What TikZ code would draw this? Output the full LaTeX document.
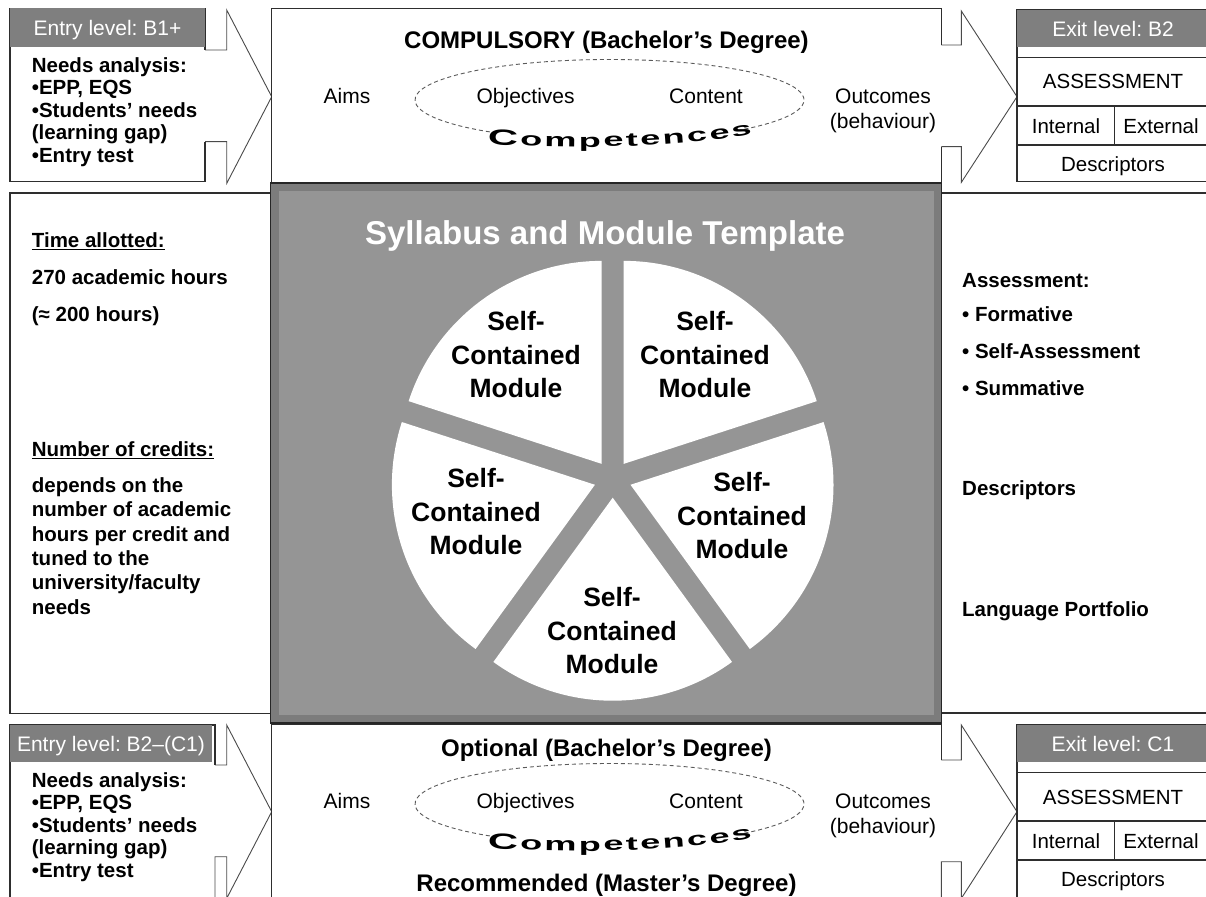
\documentclass[tikz,border=0pt]{standalone}
\usepackage{fontspec}
\setmainfont{Liberation Sans}
\usetikzlibrary{calc}
\frenchspacing
\definecolor{hdr}{HTML}{7F7F7F}
\definecolor{pnlo}{HTML}{7C7C7C}
\definecolor{pnli}{HTML}{959595}
\definecolor{edgec}{HTML}{2E2E2E}
\definecolor{arrc}{HTML}{4A4A4A}
\definecolor{dashgray}{HTML}{5A5A5A}
\tikzset{
  boxline/.style={draw=edgec, line width=1.2pt},
  arrline/.style={draw=arrc, line width=0.9pt},
  hdrfill/.style={fill=hdr, inner sep=0pt, anchor=north west},
  hdrtxt/.style={text=white, font=\fontsize{21}{25}\selectfont, inner sep=0pt, anchor=base},
  celltxt/.style={font=\fontsize{20.5}{24}\selectfont, inner sep=0pt, anchor=base},
  lt/.style={font=\bfseries\fontsize{20.5}{24}\selectfont, inner sep=0pt, anchor=base west},
  midtxt/.style={font=\fontsize{21}{25}\selectfont, inner sep=0pt, anchor=base},
  ttltxt/.style={font=\bfseries\fontsize{24}{28}\selectfont, inner sep=0pt, anchor=base},
  modtxt/.style={font=\bfseries\fontsize{26.5}{33.5}\selectfont, align=center, inner sep=0pt},
  comp/.style={font=\bfseries\fontsize{19}{19}\selectfont, inner sep=0pt, sloped, anchor=base},
  compbig/.style={font=\bfseries\fontsize{22}{22}\selectfont, inner sep=0pt, sloped, anchor=base},
  ellline/.style={draw=dashgray, line width=0.9pt, dash pattern=on 4pt off 3pt},
}
\begin{document}
\begin{tikzpicture}[x=1pt, y=-1pt]
\clip (0,0) rectangle (1206,896);
\fill[white] (0,0) rectangle (1206,896);

% ---------- middle side boxes ----------
\draw[boxline, fill=white] (10,193) rectangle (270.5,713.8);
\draw[boxline, fill=white] (941.5,193) rectangle (1212,713);

% ---------- top-left entry block ----------
\fill[white] (10,8.3) -- (205,8.3) -- (205,50) -- (226.7,50) -- (226.7,10) -- (271.7,96.7) -- (226.7,183.4) -- (226.7,141.7) -- (205,141.7) -- (205,181.7) -- (10,181.7) -- cycle;
\draw[arrline] (205,50) -- (226.7,50) -- (226.7,10) -- (271.7,96.7) -- (226.7,183.4) -- (226.7,141.7) -- (205,141.7);
\draw[boxline] (205,50) -- (205,8.3) -- (10,8.3) -- (10,181.7) -- (205,181.7) -- (205,141.7);
\node[hdrfill, minimum width=195pt, minimum height=38.4pt] (hTL) at (10,8.3) {};
\node[hdrtxt] (tTL) at (107.5,36) {Entry level: B1+};
\node[lt] (tl1) at (31.7,72.3) {Needs analysis:};
\node[lt] (tl2) at (31.7,94.8) {•EPP, EQS};
\node[lt] (tl3) at (31.7,117.3) {•Students’ needs};
\node[lt] (tl4) at (31.7,139.8) {(learning gap)};
\node[lt] (tl5) at (31.7,162.3) {•Entry test};

% ---------- top middle block ----------
\fill[white] (271.7,8.3) rectangle (941.4,183);
\fill[white] (941.4,45) -- (961.3,45) -- (961.3,11) -- (1017,96.7) -- (961.3,182.4) -- (961.3,146.7) -- (941.4,146.7) -- cycle;
\draw[arrline] (941.4,45) -- (961.3,45) -- (961.3,11) -- (1017,96.7) -- (961.3,182.4) -- (961.3,146.7) -- (941.4,146.7);
\draw[boxline] (941.4,45) -- (941.4,8.3) -- (271.7,8.3) -- (271.7,183);
\draw[boxline] (941.4,146.7) -- (941.4,183);
\node[ttltxt] (tc) at (606.5,49) {COMPULSORY (Bachelor’s Degree)};
\node[midtxt] (aimsT) at (347,104) {Aims};
\node[midtxt] (objT) at (525.6,104) {Objectives};
\node[midtxt] (conT) at (706,104) {Content};
\node[midtxt, align=center] (outT) at (883,129) {Outcomes\\(behaviour)};
\draw[ellline] (609.5,100) ++(128:194.5 and 40.5) arc[start angle=128, end angle=410, x radius=194.5, y radius=40.5];
\path (486,144) .. controls (573,149) and (665,149) .. (752,134)
  node[compbig, pos=0.064] (ctA1) {\scalebox{1.9}[1]{C}}
  \foreach \l/\p [count=\k from 2] in {o/0.171,m/0.281,p/0.392,e/0.480,t/0.549,e/0.618,n/0.706,c/0.794,e/0.879,s/0.963} { node[comp, pos=\p] (ctA\k) {\scalebox{1.9}[1]{\l}} };

% ---------- top-right exit block ----------
\draw[boxline, fill=white] (1017,10) rectangle (1212,181.7);
\node[hdrfill, minimum width=195pt, minimum height=36.7pt] (hTR) at (1017,10) {};
\draw[boxline] (1017,57.3) -- (1212,57.3);
\draw[boxline] (1017,106) -- (1212,106);
\draw[boxline] (1017,145) -- (1212,145);
\draw[boxline] (1114.7,106) -- (1114.7,145);
\node[hdrtxt] (tTR) at (1113,36.5) {Exit level: B2};
\node[celltxt] (asT) at (1113,89) {ASSESSMENT};
\node[celltxt] (inT) at (1066,133.5) {Internal};
\node[celltxt] (exT) at (1161,133.5) {External};
\node[celltxt] (deT) at (1113,171.5) {Descriptors};

% ---------- bottom-left entry block ----------
\fill[white] (10,725) -- (215,725) -- (215,765) -- (226.7,765) -- (226.7,725) -- (271.7,811.7) -- (226.7,898.4) -- (226.7,856.7) -- (215,856.7) -- (215,900) -- (10,900) -- cycle;
\draw[arrline] (215,765) -- (226.7,765) -- (226.7,725) -- (271.7,811.7) -- (226.7,898.4) -- (226.7,856.7) -- (215,856.7) -- (215,900);
\draw[boxline] (215,765) -- (215,725) -- (10,725) -- (10,900);
\node[hdrfill, minimum width=201.7pt, minimum height=36.7pt] (hBL) at (10,725) {};
\node[hdrtxt] (tBL) at (111,751.5) {Entry level: B2–(C1)};
\node[lt] (bl1) at (31.7,787.3) {Needs analysis:};
\node[lt] (bl2) at (31.7,809.8) {•EPP, EQS};
\node[lt] (bl3) at (31.7,832.3) {•Students’ needs};
\node[lt] (bl4) at (31.7,854.8) {(learning gap)};
\node[lt] (bl5) at (31.7,877.3) {•Entry test};

% ---------- bottom middle block ----------
\fill[white] (271.7,724.3) rectangle (941.4,900);
\fill[white] (941.4,760) -- (961.3,760) -- (961.3,725) -- (1017,811.7) -- (961.3,898.4) -- (961.3,861.7) -- (941.4,861.7) -- cycle;
\draw[arrline] (941.4,760) -- (961.3,760) -- (961.3,725) -- (1017,811.7) -- (961.3,898.4) -- (961.3,861.7) -- (941.4,861.7) -- (941.4,900);
\draw[boxline] (941.4,760) -- (941.4,724.3) -- (271.7,724.3) -- (271.7,900);
\node[ttltxt] (bc) at (606.5,756) {Optional (Bachelor’s Degree)};
\node[midtxt] (aimsB) at (347,808.5) {Aims};
\node[midtxt] (objB) at (525.6,808.5) {Objectives};
\node[midtxt] (conB) at (706,808.5) {Content};
\node[midtxt, align=center] (outB) at (883,833.5) {Outcomes\\(behaviour)};
\draw[ellline] (609.5,804) ++(128:194.5 and 40.5) arc[start angle=128, end angle=410, x radius=194.5, y radius=40.5];
\path (486,848) .. controls (573,853) and (665,853) .. (752,838)
  node[compbig, pos=0.064] (ctB1) {\scalebox{1.9}[1]{C}}
  \foreach \l/\p [count=\k from 2] in {o/0.171,m/0.281,p/0.392,e/0.480,t/0.549,e/0.618,n/0.706,c/0.794,e/0.879,s/0.963} { node[comp, pos=\p] (ctB\k) {\scalebox{1.9}[1]{\l}} };
\node[ttltxt] (rc) at (606.5,891) {Recommended (Master’s Degree)};

% ---------- bottom-right exit block ----------
\draw[boxline, fill=white] (1017,725) rectangle (1212,905);
\node[hdrfill, minimum width=195pt, minimum height=36.7pt] (hBR) at (1017,725) {};
\draw[boxline] (1017,772.3) -- (1212,772.3);
\draw[boxline] (1017,821) -- (1212,821);
\draw[boxline] (1017,860) -- (1212,860);
\draw[boxline] (1114.7,821) -- (1114.7,860);
\node[hdrtxt] (tBR) at (1113,751.8) {Exit level: C1};
\node[celltxt] (asB) at (1113,804) {ASSESSMENT};
\node[celltxt] (inB) at (1066,848.5) {Internal};
\node[celltxt] (exB) at (1161,848.5) {External};
\node[celltxt] (deB) at (1113,886.5) {Descriptors};

% ---------- left column text ----------
\node[lt] (ml1) at (31.7,247.3) {\underline{Time allotted:}};
\node[lt] (ml2) at (31.7,284.9) {270 academic hours};
\node[lt] (ml3) at (31.7,321.8) {(≈ 200 hours)};
\node[lt] (ml4) at (31.7,456.3) {\underline{Number of credits:}};
\node[lt] (ml5) at (31.7,492.3) {depends on the};
\node[lt] (ml6) at (31.7,516.7) {number of academic};
\node[lt] (ml7) at (31.7,541.1) {hours per credit and};
\node[lt] (ml8) at (31.7,565.5) {tuned to the};
\node[lt] (ml9) at (31.7,589.9) {university/faculty};
\node[lt] (ml10) at (31.7,614.3) {needs};

% ---------- right column text ----------
\node[lt] (mr1) at (962,287.3) {Assessment:};
\node[lt] (mr2) at (962,321.8) {• Formative};
\node[lt] (mr3) at (962,358.3) {• Self-Assessment};
\node[lt] (mr4) at (962,395.9) {• Summative};
\node[lt] (mr5) at (962,495.3) {Descriptors};
\node[lt] (mr6) at (962,616.3) {Language Portfolio};

% ---------- central panel ----------
\fill[pnlo] (270.5,183) rectangle (941.5,723);
\fill[pnli] (278.5,191) rectangle (933.5,715);
\draw[draw=black!85, line width=1.5pt] (270.5,183) rectangle (941.5,723);
\node[text=white, font=\bfseries\fontsize{33}{37}\selectfont, inner sep=0pt, anchor=base] (title) at (605,244) {Syllabus and Module Template};
\coordinate (pc) at (612.7,479);
\foreach \b in {54,126,198,270,342} {
  \pgfmathsetmacro\ba{-\b}
  \pgfmathsetmacro\sa{-\b+36}
  \pgfmathsetmacro\ea{-\b-36}
  \fill[white] ($(pc)+(\ba:18.7)$) -- ++(\sa:203) arc[start angle=\sa, end angle=\ea, radius=203] -- cycle;
}
\node[modtxt] (mUL) at (516,355) {Self-\\Contained\\Module};
\node[modtxt] (mUR) at (705,355) {Self-\\Contained\\Module};
\node[modtxt] (mL) at (476,512) {Self-\\Contained\\Module};
\node[modtxt] (mR) at (742,516) {Self-\\Contained\\Module};
\node[modtxt] (mB) at (612,631) {Self-\\Contained\\Module};
\end{tikzpicture}
\end{document}
